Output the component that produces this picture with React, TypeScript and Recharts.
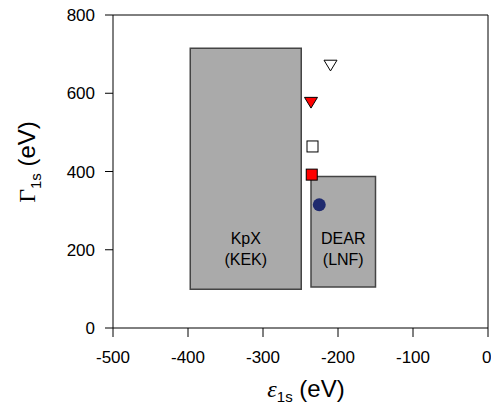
import {
  ScatterChart, Scatter, XAxis, YAxis, ReferenceArea, ReferenceLine, ReferenceDot,
} from 'recharts'

// experimental boxes (eps range, gamma range)
const KPX_BOX = { x1: -397, x2: -249, y1: 99, y2: 715 }
const DEAR_BOX = { x1: -236, x2: -150, y1: 105, y2: 387 }
const KPX_LABEL = { x: -323, y: 200, lines: ['KpX', '(KEK)'] }
const DEAR_LABEL = { x: -193, y: 200, lines: ['DEAR', '(LNF)'] }

// theory points
const OPEN_TRIANGLE = [{ x: -210, y: 672 }]
const RED_TRIANGLE = [{ x: -236, y: 577 }]
const OPEN_SQUARE = [{ x: -234, y: 464 }]
const RED_SQUARE = [{ x: -235, y: 392 }]
const NAVY_CIRCLE = [{ x: -225, y: 315 }]

const X_TICKS = [-500, -400, -300, -200, -100, 0]
const Y_TICKS = [0, 200, 400, 600, 800]

const FONT = '"Liberation Sans", Arial, sans-serif'
const SERIF = '"Liberation Serif", "Times New Roman", serif'

const triDown = (fill: string) => (p: any) => {
  const { cx, cy } = p
  const s = 6.5
  return (
    <polygon
      points={`${cx - s},${cy - s * 0.75} ${cx + s},${cy - s * 0.75} ${cx},${cy + s * 0.9}`}
      fill={fill}
      stroke="#000"
      strokeWidth={1}
    />
  )
}

const square = (fill: string) => (p: any) => {
  const { cx, cy } = p
  return <rect x={cx - 5.5} y={cy - 5.5} width={11} height={11} fill={fill} stroke="#000" strokeWidth={1} />
}

const circle = (fill: string) => (p: any) => {
  const { cx, cy } = p
  return <circle cx={cx} cy={cy} r={6.5} fill={fill} />
}

const boxLabel = (lines: string[]) => (p: any) => {
  const { viewBox } = p
  const cx = viewBox.x + (viewBox.width || 0) / 2
  const cy = viewBox.y + (viewBox.height || 0) / 2
  return (
    <text x={cx} y={cy} textAnchor="middle" fontFamily={FONT} fontSize={16} fill="#000">
      <tspan x={cx} dy={-6}>{lines[0]}</tspan>
      <tspan x={cx} dy={21}>{lines[1]}</tspan>
    </text>
  )
}

const YTitle = () => (
  <text transform="translate(35,162) rotate(-90)" textAnchor="middle" fontSize={24} fill="#000">
    <tspan fontFamily={SERIF}>Γ</tspan>
    <tspan fontFamily={FONT} fontSize={15} dy={6}>1s</tspan>
    <tspan fontFamily={FONT} dy={-6}> (eV)</tspan>
  </text>
)

const XTitle = () => (
  <text x={306} y={397} textAnchor="middle" fontSize={24} fill="#000">
    <tspan fontFamily={SERIF} fontStyle="italic">ε</tspan>
    <tspan fontFamily={FONT} fontSize={15} dy={5}>1s</tspan>
    <tspan fontFamily={FONT} dy={-5}> (eV)</tspan>
  </text>
)

export default function App() {
  return (
    <div style={{ position: 'absolute', left: 0, top: 0, width: 491, height: 406, background: '#fff' }}>
      <ScatterChart width={491} height={406} margin={{ top: 15, right: 3, bottom: 0, left: 0 }}>
        <XAxis
          type="number"
          dataKey="x"
          domain={[-500, 0]}
          ticks={X_TICKS}
          allowDataOverflow
          stroke="#000"
          tickSize={9}
          tickMargin={14}
          height={78}
          tick={{ fontFamily: FONT, fontSize: 17, fill: '#000' }}
        />
        <YAxis
          type="number"
          dataKey="y"
          domain={[0, 800]}
          ticks={Y_TICKS}
          allowDataOverflow
          stroke="#000"
          width={113}
          tickSize={8}
          tickMargin={10}
          tick={{ fontFamily: FONT, fontSize: 17, fill: '#000' }}
        />
        <ReferenceLine y={800} stroke="#000" />
        <ReferenceLine x={0} stroke="#000" />
        <ReferenceArea {...KPX_BOX} fill="#aaaaaa" fillOpacity={1} stroke="#444" strokeWidth={1.5} />
        <ReferenceArea {...DEAR_BOX} fill="#aaaaaa" fillOpacity={1} stroke="#444" strokeWidth={1.5} />
        <ReferenceDot x={KPX_LABEL.x} y={KPX_LABEL.y} r={0} fill="none" stroke="none" label={boxLabel(KPX_LABEL.lines)} />
        <ReferenceDot x={DEAR_LABEL.x} y={DEAR_LABEL.y} r={0} fill="none" stroke="none" label={boxLabel(DEAR_LABEL.lines)} />
        <Scatter data={OPEN_TRIANGLE} shape={triDown('#fff')} isAnimationActive={false} />
        <Scatter data={RED_TRIANGLE} shape={triDown('#ff0000')} isAnimationActive={false} />
        <Scatter data={OPEN_SQUARE} shape={square('#fff')} isAnimationActive={false} />
        <Scatter data={RED_SQUARE} shape={square('#ff0000')} isAnimationActive={false} />
        <Scatter data={NAVY_CIRCLE} shape={circle('#1f2a6e')} isAnimationActive={false} />
        <YTitle />
        <XTitle />
      </ScatterChart>
    </div>
  )
}
